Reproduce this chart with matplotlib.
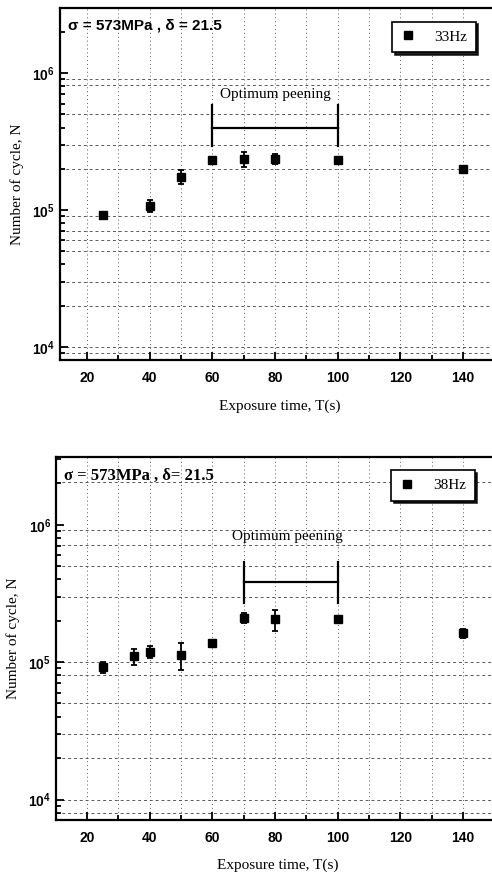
import math

import matplotlib
matplotlib.use("Agg")
import matplotlib.pyplot as plt
from matplotlib.ticker import FixedLocator, FuncFormatter, LogLocator, NullFormatter

plt.rcParams["font.family"] = ["Liberation Serif", "DejaVu Serif"]
plt.rcParams["mathtext.fontset"] = "custom"
plt.rcParams["mathtext.bf"] = "Liberation Sans:bold"
plt.rcParams["mathtext.rm"] = "Liberation Sans:bold"

# --- data: 33 Hz panel ---
t_33 = [25, 40, 50, 60, 70, 80, 100, 140]
n_33 = [9.2e4, 1.07e5, 1.75e5, 2.32e5, 2.37e5, 2.35e5, 2.32e5, 2.0e5]
err_33 = [4e3, 1.1e4, 2.0e4, 1.2e4, 3.0e4, 2.0e4, 1.2e4, 6e3]

# --- data: 38 Hz panel ---
t_38 = [25, 35, 40, 50, 60, 70, 80, 100, 140]
n_38 = [9.2e4, 1.1e5, 1.19e5, 1.12e5, 1.37e5, 2.1e5, 2.05e5, 2.05e5, 1.63e5]
err_38 = [8e3, 1.5e4, 1.1e4, 2.5e4, 7e3, 1.6e4, 3.6e4, 6e3, 1.2e4]

# optimum peening brackets: (t_start, t_end, n_bar, n_low, n_high, text_t, text_n)
bracket_33 = (60, 100, 4.0e5, 2.95e5, 5.85e5, 80, 7.0e5)
bracket_38 = (70, 100, 3.85e5, 2.7e5, 5.4e5, 84, 8.2e5)

# irregular horizontal grid levels seen in the scan
grid_n_33 = [9e3, 1e4, 2e4, 3e4, 5e4, 6e4, 7e4, 9e4, 2e5, 3e5, 5e5, 8.2e5, 9e5]
grid_n_38 = [8e3, 1e4, 2e4, 3e4, 5e4, 8e4, 1e5, 3e5, 5e5, 7.1e5, 9.2e5, 2.05e6]
x_ticks = [20, 40, 60, 80, 100, 120, 140]

fig = plt.figure(figsize=(4.92, 8.76), dpi=100)


def decade_fmt(v, pos):
    e = int(round(math.log10(v)))
    return r"$\mathbf{10^{%d}}$" % e


def panel(rect, xlim, ylim, t, n, err, bracket, grid_n, label, note,
          note_font, note_size, leg_anchor):
    ax = fig.add_axes(rect)
    ax.set_yscale("log")
    ax.set_xlim(*xlim)
    ax.set_ylim(*ylim)

    for g in grid_n:
        ax.axhline(g, color="0.35", lw=0.7, dashes=(3, 3), zorder=0)
    for gx in range(20, 150, 10):
        ax.axvline(gx, color="0.35", lw=0.7, dashes=(1, 3), zorder=0)

    ax.errorbar(t, n, yerr=err, fmt="none", ecolor="black", capsize=2.5,
                elinewidth=1.3, capthick=1.3, zorder=3)
    ax.plot(t, n, "s", color="black", ms=6, label=label, zorder=4)

    t0, t1, nb, nlo, nhi, tx, ty = bracket
    ax.plot([t0, t1], [nb, nb], color="black", lw=1.6)
    ax.plot([t0, t0], [nlo, nhi], color="black", lw=1.6)
    ax.plot([t1, t1], [nlo, nhi], color="black", lw=1.6)
    ax.text(tx, ty, "Optimum peening", ha="center", va="center", fontsize=11)

    ax.text(0.018, 0.95, note, transform=ax.transAxes, fontsize=note_size,
            fontweight="bold", family=note_font, va="center", ha="left")

    ax.xaxis.set_major_locator(FixedLocator(x_ticks))
    ax.xaxis.set_minor_locator(FixedLocator(list(range(30, 150, 20))))
    ax.set_xticklabels([str(v) for v in x_ticks], family="Liberation Sans",
                       fontweight="bold", fontsize=10)
    ax.yaxis.set_major_locator(LogLocator(base=10, numticks=10))
    ax.yaxis.set_minor_locator(LogLocator(base=10, subs=range(2, 10), numticks=10))
    ax.yaxis.set_major_formatter(FuncFormatter(decade_fmt))
    ax.yaxis.set_minor_formatter(NullFormatter())
    ax.tick_params(which="both", direction="in", width=1.3, labelsize=10)
    ax.tick_params(which="major", length=6)
    ax.tick_params(which="minor", length=3.5)
    ax.tick_params(axis="x", pad=8)

    for s in ax.spines.values():
        s.set_linewidth(1.6)

    ax.set_xlabel("Exposure time, T(s)", fontsize=11, labelpad=10)
    ax.set_ylabel("Number of cycle, N", fontsize=11, labelpad=6)

    leg = ax.legend(loc="upper right", bbox_to_anchor=leg_anchor,
                    bbox_transform=fig.transFigure,
                    frameon=True, fancybox=False,
                    shadow={"color": "black", "alpha": 0.85},
                    edgecolor="black", framealpha=1,
                    fontsize=11, handletextpad=1.2, borderpad=0.55,
                    handlelength=1.0)
    leg.get_frame().set_linewidth(1.2)
    return ax


panel([0.122, 0.589, 0.894, 0.402], (11.4, 151.8), (8.0e3, 3.0e6),
      t_33, n_33, err_33, bracket_33, grid_n_33, "33Hz",
      "σ = 573MPa , δ = 21.5", "Liberation Sans", 11, (0.982, 0.984))
panel([0.114, 0.064, 0.902, 0.414], (10.1, 151.8), (7.1e3, 3.1e6),
      t_38, n_38, err_38, bracket_38, grid_n_38, "38Hz",
      "σ = 573MPa , δ= 21.5", "Liberation Serif", 12, (0.980, 0.472))

fig.savefig("out.png", dpi=100)
